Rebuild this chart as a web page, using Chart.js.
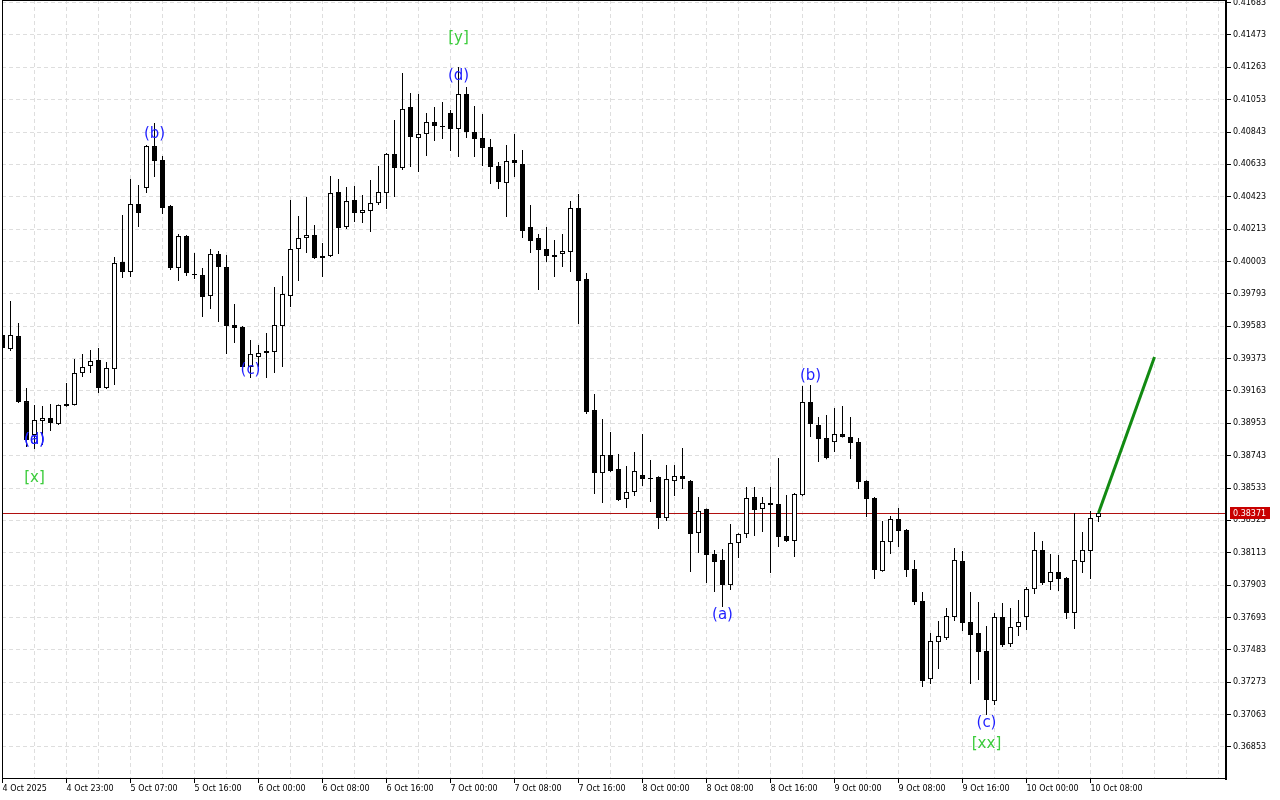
<!DOCTYPE html>
<html>
<head>
<meta charset="utf-8">
<script src="https://cdn.jsdelivr.net/npm/chart.js@4.4.1/dist/chart.umd.min.js"></script>
<style>
  html, body { margin: 0; padding: 0; background: #fff; }
  canvas { display: block; }
</style>
</head>
<body>
<canvas id="chart" width="1280" height="800"></canvas>
<script>
// hourly candles
const opens = [
  0.39526, 0.39435, 0.39519, 0.39097, 0.38877, 0.38968, 0.38987, 0.38948, 0.39078, 0.39072,
  0.39279, 0.39325, 0.39364, 0.39182, 0.39305, 0.40000, 0.39935, 0.40376, 0.40480, 0.40752,
  0.40662, 0.40363, 0.39961, 0.40168, 0.39922, 0.39915, 0.39779, 0.40052, 0.39967, 0.39591,
  0.39578, 0.39318, 0.39383, 0.39422, 0.39416, 0.39584, 0.39779, 0.40084, 0.40155, 0.40175,
  0.40026, 0.40039, 0.40454, 0.40227, 0.40402, 0.40318, 0.40331, 0.40382, 0.40447, 0.40701,
  0.40610, 0.41006, 0.40804, 0.40830, 0.40908, 0.40882, 0.40967, 0.40863, 0.41090, 0.40843,
  0.40804, 0.40746, 0.40623, 0.40512, 0.40662, 0.40636, 0.40227, 0.40155, 0.40084, 0.40045,
  0.40052, 0.40065, 0.40350, 0.39889, 0.39039, 0.38630, 0.38747, 0.38656, 0.38462, 0.38507,
  0.38617, 0.38598, 0.38604, 0.38338, 0.38578, 0.38611, 0.38578, 0.38241, 0.38397, 0.38105,
  0.38066, 0.37903, 0.38176, 0.38234, 0.38474, 0.38397, 0.38436, 0.38429, 0.38221, 0.38189,
  0.38487, 0.39091, 0.38942, 0.38857, 0.38831, 0.38883, 0.38864, 0.38831, 0.38578, 0.38468,
  0.37994, 0.38182, 0.38332, 0.38260, 0.38007, 0.37800, 0.37293, 0.37533, 0.37559, 0.37696,
  0.38059, 0.37663, 0.37592, 0.37475, 0.37150, 0.37696, 0.37520, 0.37631, 0.37696, 0.37877,
  0.38131, 0.37923, 0.37988, 0.37949, 0.37722, 0.38053, 0.38124, 0.38345
];
const highs = [
  0.39558, 0.39746, 0.39604, 0.39182, 0.39072, 0.39065, 0.39078, 0.39075, 0.39214, 0.39370,
  0.39403, 0.39429, 0.39441, 0.39351, 0.40032, 0.40305, 0.40538, 0.40499, 0.40759, 0.40902,
  0.40688, 0.40370, 0.40181, 0.40175, 0.40058, 0.39961, 0.40084, 0.40071, 0.40045, 0.39727,
  0.39585, 0.39493, 0.39461, 0.39539, 0.39837, 0.39909, 0.40402, 0.40298, 0.40422, 0.40240,
  0.40123, 0.40558, 0.40538, 0.40486, 0.40493, 0.40434, 0.40532, 0.40623, 0.40707, 0.40921,
  0.41226, 0.41096, 0.41090, 0.40967, 0.41006, 0.41038, 0.40986, 0.41265, 0.41135, 0.41012,
  0.40960, 0.40798, 0.40649, 0.40759, 0.40830, 0.40727, 0.40370, 0.40181, 0.40227, 0.40142,
  0.40181, 0.40395, 0.40441, 0.39928, 0.39143, 0.38981, 0.38896, 0.38754, 0.38676, 0.38767,
  0.38883, 0.38715, 0.38610, 0.38682, 0.38682, 0.38793, 0.38585, 0.38474, 0.38400, 0.38131,
  0.38137, 0.38299, 0.38240, 0.38539, 0.38539, 0.38474, 0.38539, 0.38728, 0.38487, 0.38500,
  0.39195, 0.39201, 0.38994, 0.39007, 0.39052, 0.39065, 0.38994, 0.38857, 0.38584, 0.38474,
  0.38319, 0.38351, 0.38403, 0.38267, 0.38066, 0.37858, 0.37592, 0.37670, 0.37754, 0.38143,
  0.38124, 0.37858, 0.37793, 0.37637, 0.37722, 0.37786, 0.37754, 0.37806, 0.37890, 0.38247,
  0.38189, 0.38105, 0.38098, 0.37955, 0.38371, 0.38247, 0.38384, 0.38384
];
const lows = [
  0.39429, 0.39422, 0.39085, 0.38799, 0.38786, 0.38812, 0.38903, 0.38942, 0.39060, 0.39068,
  0.39253, 0.39279, 0.39149, 0.39175, 0.39201, 0.39896, 0.39902, 0.40227, 0.40447, 0.40551,
  0.40311, 0.39948, 0.39876, 0.39909, 0.39889, 0.39643, 0.39695, 0.39610, 0.39403, 0.39474,
  0.39299, 0.39247, 0.39318, 0.39247, 0.39279, 0.39318, 0.39708, 0.39876, 0.40058, 0.40019,
  0.39902, 0.40032, 0.40052, 0.40214, 0.40259, 0.40253, 0.40194, 0.40370, 0.40344, 0.40422,
  0.40597, 0.40616, 0.40584, 0.40688, 0.40785, 0.40798, 0.40720, 0.40681, 0.40804, 0.40681,
  0.40623, 0.40506, 0.40473, 0.40292, 0.40551, 0.40155, 0.40058, 0.39818, 0.39999, 0.39902,
  0.39967, 0.39935, 0.39597, 0.39013, 0.38494, 0.38436, 0.38637, 0.38449, 0.38403, 0.38481,
  0.38546, 0.38442, 0.38267, 0.38319, 0.38481, 0.38526, 0.37988, 0.38111, 0.37916, 0.37858,
  0.37761, 0.37871, 0.38079, 0.38208, 0.38221, 0.38247, 0.37981, 0.38150, 0.38183, 0.38085,
  0.38480, 0.38864, 0.38702, 0.38720, 0.38767, 0.38860, 0.38721, 0.38526, 0.38345, 0.37942,
  0.37990, 0.38105, 0.38150, 0.37955, 0.37774, 0.37241, 0.37261, 0.37358, 0.37546, 0.37670,
  0.37605, 0.37261, 0.37287, 0.37060, 0.37124, 0.37501, 0.37501, 0.37572, 0.37611, 0.37845,
  0.37903, 0.37871, 0.37864, 0.37683, 0.37618, 0.37981, 0.37942, 0.38312
];
const closes = [
  0.39441, 0.39526, 0.39091, 0.38844, 0.38974, 0.38987, 0.38955, 0.39072, 0.39065, 0.39279,
  0.39318, 0.39357, 0.39182, 0.39312, 0.39993, 0.39935, 0.40376, 0.40318, 0.40752, 0.40655,
  0.40350, 0.39961, 0.40168, 0.39928, 0.39915, 0.39772, 0.40052, 0.39967, 0.39584, 0.39571,
  0.39318, 0.39403, 0.39409, 0.39409, 0.39591, 0.39792, 0.40084, 0.40155, 0.40175, 0.40026,
  0.40039, 0.40447, 0.40220, 0.40395, 0.40318, 0.40337, 0.40382, 0.40454, 0.40701, 0.40610,
  0.40993, 0.40811, 0.40830, 0.40908, 0.40882, 0.40876, 0.40863, 0.41090, 0.40843, 0.40798,
  0.40740, 0.40616, 0.40519, 0.40655, 0.40642, 0.40201, 0.40136, 0.40078, 0.40039, 0.40032,
  0.40071, 0.40350, 0.39876, 0.39026, 0.38630, 0.38747, 0.38643, 0.38455, 0.38507, 0.38643,
  0.38591, 0.38591, 0.38338, 0.38591, 0.38611, 0.38591, 0.38234, 0.38384, 0.38098, 0.38053,
  0.37903, 0.38176, 0.38234, 0.38468, 0.38390, 0.38436, 0.38423, 0.38215, 0.38189, 0.38494,
  0.39091, 0.38948, 0.38851, 0.38728, 0.38883, 0.38864, 0.38825, 0.38572, 0.38462, 0.38001,
  0.38189, 0.38332, 0.38254, 0.38001, 0.37793, 0.37280, 0.37540, 0.37572, 0.37702, 0.38066,
  0.37657, 0.37579, 0.37468, 0.37157, 0.37696, 0.37514, 0.37631, 0.37663, 0.37877, 0.38131,
  0.37916, 0.37988, 0.37942, 0.37722, 0.38066, 0.38131, 0.38338, 0.38371
];

// time axis: bar index of each labelled tick
const timeTickIdx = [0, 8, 16, 24, 32, 40, 48, 56, 64, 72, 80, 88, 96, 104, 112, 120, 128, 136];
const timeTickLabels = [
  '4 Oct 2025', '4 Oct 23:00', '5 Oct 07:00', '5 Oct 16:00', '6 Oct 00:00', '6 Oct 08:00',
  '6 Oct 16:00', '7 Oct 00:00', '7 Oct 08:00', '7 Oct 16:00', '8 Oct 00:00', '8 Oct 08:00',
  '8 Oct 16:00', '9 Oct 00:00', '9 Oct 08:00', '9 Oct 16:00', '10 Oct 00:00', '10 Oct 08:00'
];
const priceTicks = [
  0.36853, 0.37063, 0.37273, 0.37483, 0.37693, 0.37903, 0.38113, 0.38323, 0.38533, 0.38743,
  0.38953, 0.39163, 0.39373, 0.39583, 0.39793, 0.40003, 0.40213, 0.40423, 0.40633, 0.40843,
  0.41053, 0.41263, 0.41473, 0.41683
];

// projected move
const forecastIdx = [137, 144];
const forecastPrice = [0.38371, 0.39383];

// wave marks
const waveText  = ['(a)', '(d)', '[x]', '(b)', '(c)', '[y]', '(d)', '(a)', '(b)', '(c)', '[xx]'];
const waveIdx   = [4, 4, 4, 19, 31, 57, 57, 90, 101, 123, 123];
const wavePrice = [0.38844, 0.38844, 0.38598, 0.40830, 0.39296, 0.41453, 0.41204, 0.37709, 0.39260, 0.37008, 0.36871];
const waveMajor = [false, false, true, false, false, true, false, false, false, false, true];

const gridIdx = [];
for (let i = 0; i <= 152; i += 4) gridIdx.push(i);

const bodies = opens.map((o, i) => ({ x: i, y: [o, closes[i]] }));
const wicks = lows.map((l, i) => ({ x: i, y: [l, highs[i]] }));
const bodyColors = opens.map((o, i) => closes[i] >= o ? '#ffffff' : '#000000');

const tickFont = { family: 'DejaVu Sans', size: 8 };

const framePlugin = {
  id: 'frame',
  beforeDatasetsDraw(chart) {
    const { ctx, chartArea: a } = chart;
    const y = Math.round(chart.scales.y.getPixelForValue(closes[closes.length - 1]));
    ctx.save();
    ctx.fillStyle = '#b01010';
    ctx.fillRect(a.left, y, a.right - a.left, 1);
    ctx.restore();
  },
  afterDraw(chart) {
    const { ctx, chartArea: a } = chart;
    ctx.save();
    ctx.fillStyle = '#000';
    ctx.fillRect(a.left, a.top, 1, a.bottom - a.top);
    ctx.fillRect(a.left, a.top, a.right - a.left, 1);
    ctx.fillRect(a.left, a.bottom, a.right - a.left, 1);
    ctx.fillRect(a.right - 2, a.top, 2, a.bottom - a.top + 2);
    // last price tag on the axis
    const last = closes[closes.length - 1];
    const y = Math.round(chart.scales.y.getPixelForValue(last));
    ctx.fillStyle = '#c80000';
    ctx.fillRect(a.right + 3, y - 6, 40, 12);
    ctx.fillStyle = '#fff';
    ctx.font = '8px "DejaVu Sans"';
    ctx.textBaseline = 'middle';
    ctx.textAlign = 'left';
    ctx.fillText(last.toFixed(5), a.right + 6, y + 0.5);
    ctx.restore();
  }
};

const wavePlugin = {
  id: 'waves',
  afterDatasetsDraw(chart) {
    const { ctx } = chart;
    const xs = chart.scales.x, ys = chart.scales.y;
    ctx.save();
    ctx.font = '15px "DejaVu Sans"';
    ctx.textAlign = 'center';
    ctx.textBaseline = 'middle';
    waveText.forEach((t, i) => {
      ctx.fillStyle = waveMajor[i] ? '#3ccc3c' : '#1f1fff';
      ctx.fillText(t, xs.getPixelForValue(waveIdx[i]), ys.getPixelForValue(wavePrice[i]));
    });
    ctx.restore();
  }
};

new Chart(document.getElementById('chart').getContext('2d'), {
  type: 'bar',
  data: {
    datasets: [
      {
        type: 'line',
        data: forecastIdx.map((x, i) => ({ x: x, y: forecastPrice[i] })),
        borderColor: '#128a12',
        borderWidth: 3,
        pointRadius: 0,
        order: 0
      },
      {
        data: bodies,
        backgroundColor: bodyColors,
        borderColor: '#000',
        borderWidth: 1,
        borderSkipped: false,
        barThickness: 5,
        grouped: false,
        inflateAmount: 0,
        minBarLength: 1,
        order: 1
      },
      {
        data: wicks,
        backgroundColor: '#000',
        borderWidth: 0,
        barThickness: 1,
        grouped: false,
        inflateAmount: 0,
        order: 2
      }
    ]
  },
  options: {
    responsive: false,
    animation: false,
    devicePixelRatio: 1,
    layout: { padding: { left: 2, top: 0, right: 0, bottom: 0 } },
    plugins: { legend: { display: false }, tooltip: { enabled: false } },
    scales: {
      x: {
        type: 'linear',
        min: -0.0625,
        max: 153.0625,
        bounds: 'data',
        offset: false,
        grid: {
          offset: false,
          color: (c) => (c.tick && c.tick.value > 0 ? '#dedede' : 'rgba(0,0,0,0)'),
          tickLength: 5,
          tickColor: (c) => (c.tick && timeTickIdx.includes(c.tick.value) ? '#000' : 'rgba(0,0,0,0)')
        },
        border: { display: false, dash: [4, 3] },
        ticks: {
          autoSkip: false,
          maxRotation: 0,
          minRotation: 0,
          align: 'start',
          padding: 1,
          color: '#000',
          font: tickFont,
          callback: (v) => {
            const k = timeTickIdx.indexOf(v);
            return k >= 0 ? timeTickLabels[k] : '';
          }
        },
        afterBuildTicks: (s) => { s.ticks = gridIdx.map((v) => ({ value: v })); },
        afterFit: (s) => { s.height = 22; s.paddingLeft = 0; s.paddingRight = 0; }
      },
      y: {
        type: 'linear',
        position: 'right',
        min: 0.36651,
        max: 0.41700,
        bounds: 'data',
        grid: { color: '#dedede', tickLength: 4, tickColor: '#000' },
        border: { display: false, dash: [4, 3] },
        ticks: {
          autoSkip: false,
          padding: 2,
          color: '#000',
          font: tickFont,
          callback: (v) => v.toFixed(5)
        },
        afterBuildTicks: (s) => { s.ticks = priceTicks.map((v) => ({ value: v })); },
        afterFit: (s) => { s.width = 53; s.paddingTop = 0; s.paddingBottom = 0; }
      }
    }
  },
  plugins: [framePlugin, wavePlugin]
});
</script>
</body>
</html>
